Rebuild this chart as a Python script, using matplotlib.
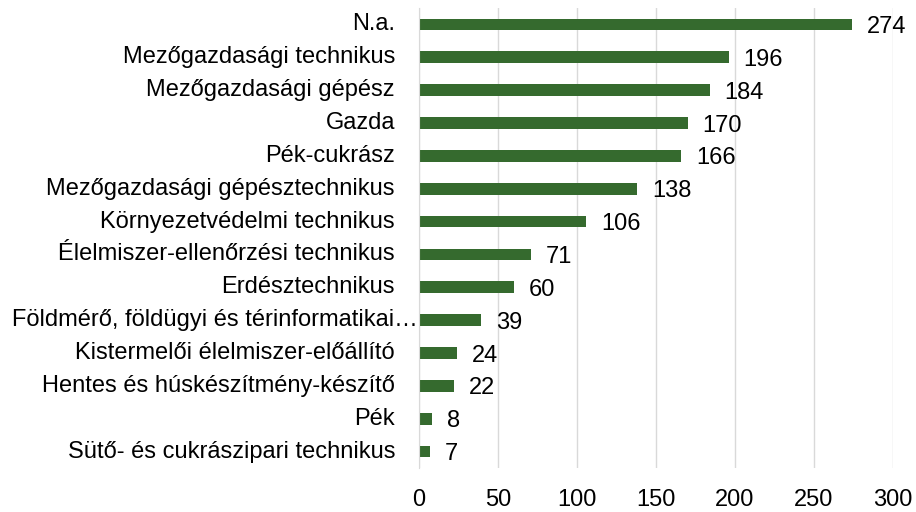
import matplotlib.pyplot as plt
import matplotlib.transforms as mtransforms

plt.rcParams['font.family'] = ['Liberation Sans', 'DejaVu Sans']

# data (top to bottom as shown)
categories = [
    'N.a.',
    'Mezőgazdasági technikus',
    'Mezőgazdasági gépész',
    'Gazda',
    'Pék-cukrász',
    'Mezőgazdasági gépésztechnikus',
    'Környezetvédelmi technikus',
    'Élelmiszer-ellenőrzési technikus',
    'Erdésztechnikus',
    'Földmérő, földügyi és térinformatikai…',
    'Kistermelői élelmiszer-előállító',
    'Hentes és húskészítmény-készítő',
    'Pék',
    'Sütő- és cukrászipari technikus',
]
values = [274, 196, 184, 170, 166, 138, 106, 71, 60, 39, 24, 22, 8, 7]
xticks = [0, 50, 100, 150, 200, 250, 300]

barColor = '#356a2e'
gridColor = '#d9d9d9'
txtColor = '#000000'
fs = 17

fig = plt.figure(figsize=(9.16, 5.12), dpi=100)
ax = fig.add_axes([419 / 916, 1 - 468 / 512, (893 - 419) / 916, 460 / 512])

ypos = list(range(len(categories)))
ax.barh(ypos, values, height=0.36, color=barColor, zorder=3)

ax.set_xlim(0, 300)
ax.set_ylim(len(categories) - 0.5, -0.5)

ax.set_xticks(xticks)
ax.set_xticklabels([str(t) for t in xticks], fontsize=fs, color=txtColor)
ax.tick_params(axis='x', length=0, pad=15)
ax.set_yticks([])
ax.grid(axis='x', color=gridColor, linewidth=1, zorder=0)

for side in ['top', 'right', 'bottom']:
    ax.spines[side].set_visible(False)
ax.spines['left'].set_color(gridColor)
ax.spines['left'].set_zorder(4)

# category labels (truncated one sits closer to the axis, like the original)
for i, (cat, v) in enumerate(zip(categories, values)):
    dx = -24 if not cat.endswith('…') else -1
    off = mtransforms.offset_copy(ax.transData, fig=fig, x=dx, y=0, units='dots')
    ax.text(0, i, cat, transform=off, ha='right', va='center',
            fontsize=fs, color=txtColor)
    offv = mtransforms.offset_copy(ax.transData, fig=fig, x=15, y=0, units='dots')
    ax.text(v, i + 0.08, str(v), transform=offv, ha='left', va='center',
            fontsize=fs, color=txtColor)

fig.savefig('out.png', dpi=100)
